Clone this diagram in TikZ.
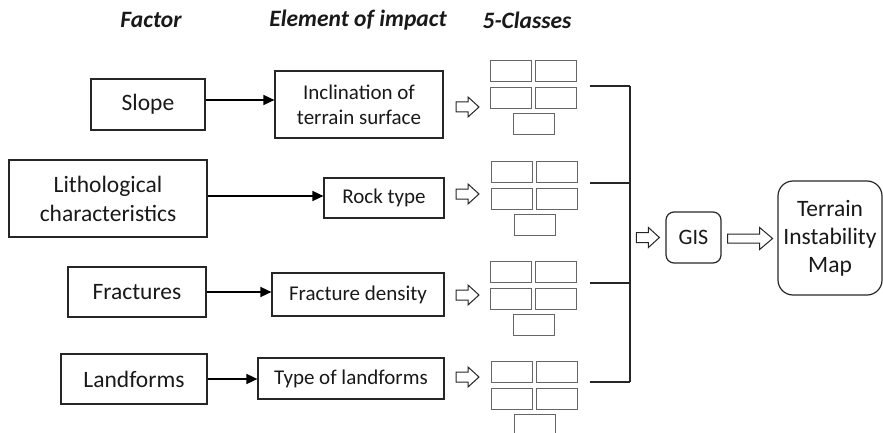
\documentclass[tikz,border=0pt]{standalone}
\usepackage{fontspec}
\setmainfont{Carlito}
\usetikzlibrary{arrows.meta, calc}

\begin{document}
\begin{tikzpicture}[x=1pt, y=-1pt,
    box/.style={draw=black!85, line width=1.2pt, align=center, inner sep=2pt, text=black!90},
    factor/.style={box, font=\fontsize{23.5}{29}\selectfont},
    impact/.style={box, font=\fontsize{21}{25}\selectfont},
    head/.style={font=\fontsize{23.5}{28}\selectfont\bfseries\itshape, text=black!90},
    cls/.style={draw=black!60, line width=0.9pt, minimum width=41pt, minimum height=21pt, inner sep=0pt},
    link/.style={line width=1.6pt, -{Triangle[length=11pt, width=10pt]}},
    bus/.style={line width=1.2pt, draw=black!85},
    hollow/.style={draw=black!85, line width=1pt, fill=white, line join=miter},
    classes/.pic={
        \node[cls] (-a) at (20.5,10.5) {};
        \node[cls] (-b) at (65.5,10.5) {};
        \node[cls] (-c) at (20.5,37.5) {};
        \node[cls] (-d) at (65.5,37.5) {};
        \node[cls] (-e) at (43.5,63.5) {};
    },
    harrow/.pic={
        \draw[hollow] (0,-5) -- (12,-5) -- (12,-10) -- (23,0) -- (12,10) -- (12,5) -- (0,5) -- cycle;
    },
    bigarrow/.pic={
        \draw[hollow] (0,-4.5) -- (32,-4.5) -- (32,-11) -- (45,0) -- (32,11) -- (32,4.5) -- (0,4.5) -- cycle;
    }]
    \useasboundingbox (0,0) rectangle (883,433);

    % Column headings
    \node[head] (hfactor) at (151,20) {Factor};
    \node[head] (himpact) at (358,20) {Element of impact};
    \node[head] (hclass) at (527,20) {5-Classes};

    % Factors
    \node[factor, minimum width=114pt, minimum height=51pt] (slope) at (148,104.5) {Slope};
    \node[factor, minimum width=198pt, minimum height=77pt] (litho) at (108,198.5) {Lithological\\characteristics};
    \node[factor, minimum width=138pt, minimum height=50pt] (fract) at (137,292) {Fractures};
    \node[factor, minimum width=146pt, minimum height=50pt] (landf) at (134,379) {Landforms};

    % Elements of impact
    \node[impact, minimum width=168pt, minimum height=67pt] (incl) at (359,104.5) {Inclination of\\terrain surface};
    \node[impact, minimum width=120pt, minimum height=40pt] (rock) at (384,198) {Rock type};
    \node[impact, minimum width=172pt, minimum height=43pt] (dens) at (358,294.5) {Fracture density};
    \node[impact, minimum width=186pt, minimum height=41pt] (ltype) at (351,378.5) {Type of landforms};

    % Factor to element
    \draw[link] ($(slope.east)+(0,-4.5)$) coordinate (a1) -- (a1 -| incl.west);
    \draw[link] ($(litho.east)+(0,-2.5)$) coordinate (a2) -- (a2 -| rock.west);
    \draw[link] (fract.east) -- (fract.east -| dens.west);
    \draw[link] (landf.east) -- (landf.east -| ltype.west);

    % Classes
    \pic (c1) at (490,60) {classes};
    \pic (c2) at (491,161) {classes};
    \pic (c3) at (490,261) {classes};
    \pic (c4) at (491,361) {classes};
    \pic at (456,107) {harrow};
    \pic at (456,194) {harrow};
    \pic at (456,295) {harrow};
    \pic at (456,377) {harrow};

    % Collecting line
    \coordinate (s1) at (590,86);  \coordinate (j1) at (630,86);
    \coordinate (s2) at (590,183); \coordinate (j2) at (630,183);
    \coordinate (s3) at (590,283); \coordinate (j3) at (630,283);
    \coordinate (s4) at (590,382); \coordinate (j4) at (630,382);
    \draw[bus] (s1) -- (j1) (s2) -- (j2) (s3) -- (j3) (s4) -- (j4);
    \draw[bus] (j1) -- (j4);

    % GIS and map
    \node[box, rounded corners=8pt, minimum width=55pt, minimum height=51pt, font=\fontsize{22}{26}\selectfont] (gis) at (693.5,237.5) {GIS};
    \node[box, rounded corners=15pt, minimum width=104pt, minimum height=114pt, font=\fontsize{23.5}{28}\selectfont] (map) at (830,238) {Terrain\\Instability\\Map};
    \pic at ($(gis.west)+(-29,0)$) {harrow};
    \pic at ($(gis.east)+(6,1)$) {bigarrow};
\end{tikzpicture}
\end{document}
